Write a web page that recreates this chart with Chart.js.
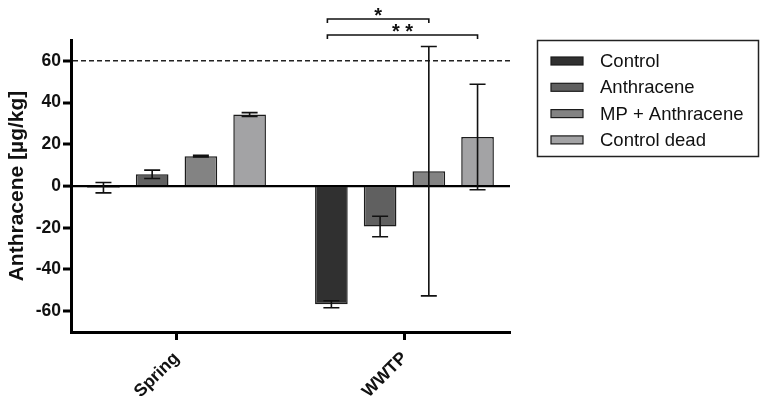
<!DOCTYPE html>
<html>
<head>
<meta charset="utf-8">
<script src="https://cdn.jsdelivr.net/npm/chart.js@4.4.1/dist/chart.umd.min.js"></script>
<style>
  html, body { margin: 0; padding: 0; background: #fff; }
  #wrap { width: 766px; height: 403px; }
</style>
</head>
<body>
<div id="wrap"><canvas id="myChart"></canvas></div>
<script>
const categories = ['Spring', 'WWTP'];
const seriesNames = ['Control', 'Anthracene', 'MP + Anthracene', 'Control dead'];
const control = [-0.8, -56.7];
const anthracene = [5.6, -19.4];
const mpAnthracene = [14.3, 7.1];
const controlDead = [34.3, 23.5];
const controlErr = [2.5, 1.7];
const anthraceneErr = [2.0, 4.9];
const mpAnthraceneErr = [0.4, 59.8];
const controlDeadErr = [0.9, 25.3];
const yTicks = [-60, -40, -20, 0, 20, 40, 60];
const yMin = -70, yMax = 70;
const limitLine = 60;
// significance brackets: [category, from series, to series, label]
const brackets = [
  ['WWTP', 0, 2, '*'],
  ['WWTP', 0, 3, '* *']
];

const values = [control, anthracene, mpAnthracene, controlDead];
const errors = [controlErr, anthraceneErr, mpAnthraceneErr, controlDeadErr];
const fills = ['#303030', '#606060', '#838383', '#a3a3a5'];
const font = "'Liberation Sans', Arial, sans-serif";

const extras = {
  id: 'extras',
  beforeDatasetsDraw(chart) {
    const ctx = chart.ctx, a = chart.chartArea, y = chart.scales.y;
    const py = y.getPixelForValue(limitLine);
    ctx.save();
    ctx.strokeStyle = '#222';
    ctx.lineWidth = 1.5;
    ctx.setLineDash([5, 3]);
    ctx.beginPath();
    ctx.moveTo(a.left + 2, py);
    ctx.lineTo(a.right, py);
    ctx.stroke();
    ctx.restore();
  },
  afterDatasetsDraw(chart) {
    const ctx = chart.ctx, y = chart.scales.y;
    ctx.save();
    ctx.strokeStyle = '#111';
    ctx.lineWidth = 1.6;
    values.forEach((vals, i) => {
      chart.getDatasetMeta(i).data.forEach((bar, j) => {
        const top = y.getPixelForValue(vals[j] + errors[i][j]);
        const bot = y.getPixelForValue(vals[j] - errors[i][j]);
        ctx.beginPath();
        ctx.moveTo(bar.x, top); ctx.lineTo(bar.x, bot);
        ctx.moveTo(bar.x - 8, top); ctx.lineTo(bar.x + 8, top);
        ctx.moveTo(bar.x - 8, bot); ctx.lineTo(bar.x + 8, bot);
        ctx.stroke();
      });
    });

    // brackets above the plot
    const a = chart.chartArea;
    brackets.forEach((b, k) => {
      const j = categories.indexOf(b[0]);
      const x1 = chart.getDatasetMeta(b[1]).data[j].x - 4;
      const x2 = chart.getDatasetMeta(b[2]).data[j].x;
      const by = a.top - 21 + k * 16;
      ctx.beginPath();
      ctx.moveTo(x1, by + 4); ctx.lineTo(x1, by); ctx.lineTo(x2, by); ctx.lineTo(x2, by + 4);
      ctx.stroke();
      ctx.fillStyle = '#111';
      ctx.font = 'bold 20px ' + font;
      ctx.textAlign = 'center';
      ctx.textBaseline = 'alphabetic';
      ctx.fillText(b[3], (x1 + x2) / 2, by + 3);
    });

    // legend box
    ctx.lineWidth = 1.5;
    ctx.strokeStyle = '#222';
    ctx.strokeRect(537.5, 40.5, 221, 116);
    ctx.font = '18.5px ' + font;
    ctx.textAlign = 'left';
    ctx.textBaseline = 'middle';
    seriesNames.forEach((name, i) => {
      const ry = 61 + i * 26.3;
      ctx.fillStyle = fills[i];
      ctx.fillRect(551, ry - 4, 32, 8);
      ctx.strokeStyle = '#1c1c1c';
      ctx.lineWidth = 1.2;
      ctx.strokeRect(551, ry - 4, 32, 8);
      ctx.fillStyle = '#111';
      ctx.fillText(name, 600, ry + 1);
    });
    ctx.restore();
  }
};

const ctx = document.getElementById('myChart');

new Chart(ctx, {
  type: 'bar',
  data: {
    labels: categories,
    datasets: seriesNames.map((name, i) => ({
      label: name,
      data: values[i],
      backgroundColor: fills[i],
      borderColor: '#1c1c1c',
      borderWidth: 1.5,
      categoryPercentage: 0.855,
      barPercentage: 0.67
    }))
  },
  options: {
    responsive: true,
    maintainAspectRatio: false,
    animation: false,
    layout: { padding: { left: 0, top: 40, right: 256, bottom: 0 } },
    plugins: { legend: { display: false }, tooltip: { enabled: false } },
    scales: {
      x: {
        offset: false,
        border: { color: '#000', width: 3 },
        grid: { display: true, drawOnChartArea: false, offset: false, tickLength: 8, tickWidth: 3, tickColor: '#000' },
        ticks: { color: '#111', font: { family: font, size: 17.5, weight: 'bold' }, minRotation: 45, maxRotation: 45, padding: 8 },
        afterBuildTicks(s) {
          // categories are spaced wider than the plot edges
          s._startValue = -0.463;
          s._valueRange = 1.926;
        },
        afterFit(s) { s.height = 71; }
      },
      y: {
        min: yMin,
        max: yMax,
        border: { color: '#000', width: 3 },
        grid: {
          color: c => c.tick && c.tick.value === 0 ? '#000' : 'rgba(0,0,0,0)',
          lineWidth: c => c.tick && c.tick.value === 0 ? 2.2 : 0,
          tickLength: 8, tickWidth: 3, tickColor: '#000'
        },
        ticks: { color: '#111', font: { family: font, size: 17.5, weight: 'bold' }, padding: 2 },
        afterBuildTicks(s) { s.ticks = yTicks.map(v => ({ value: v })); },
        afterFit(s) { s.width = 71; },
        title: {
          display: true,
          text: 'Anthracene [µg/kg]',
          color: '#111',
          font: { family: font, size: 21, weight: 'bold' },
          padding: { top: 5, bottom: 0 }
        }
      }
    }
  },
  plugins: [extras]
});
</script>
</body>
</html>
